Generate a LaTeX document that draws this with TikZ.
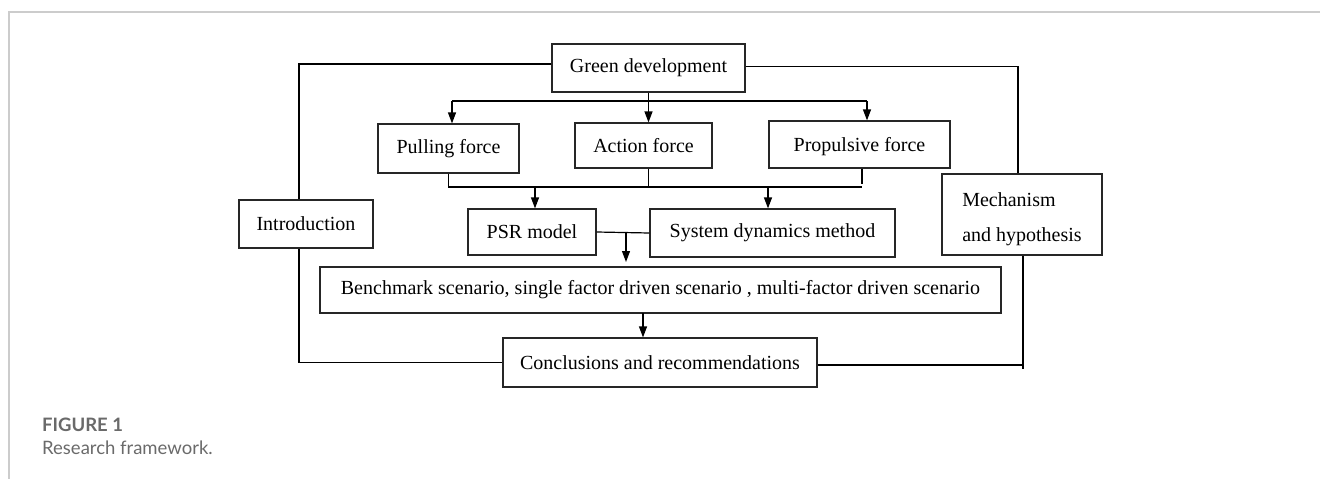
\documentclass[tikz,border=0pt]{standalone}
\usepackage{fontspec}
\setmainfont{Liberation Serif}
\newfontfamily\capfont{Lato}
\usetikzlibrary{arrows.meta,calc}
\definecolor{framegray}{HTML}{CCCCCC}
\definecolor{capgray}{HTML}{6A6A6A}
\tikzset{
  box/.style={draw=black!85, line width=1.2pt, inner sep=0pt, align=center,
    font=\fontsize{20}{24}\selectfont},
  link/.style={draw=black, line width=1.2pt},
  arr/.style={link, -{Triangle[length=11pt,width=8pt]}},
}
\begin{document}
\begin{tikzpicture}[x=1pt,y=-1pt]
\useasboundingbox (0,0) rectangle (1320,479);
% page frame
\draw[framegray, line width=1.6pt] (1320,12) -- (9,12) -- (9,479);

% boxes
\node[box, minimum width=193pt, minimum height=48pt] (green) at (648.5,68) {Green development};
\node[box, minimum width=134pt, minimum height=48pt] (intro) at (306,224) {Introduction};
\node[box, minimum width=141pt, minimum height=49pt] (pull) at (448.5,148.5) {Pulling force};
\node[box, minimum width=137pt, minimum height=45pt] (act) at (643.5,145.5) {Action force};
\node[box, minimum width=181pt, minimum height=47pt] (prop) at (859.5,144.5) {\rule{0pt}{18pt}Propulsive force};
\node[box, minimum width=160pt, minimum height=81pt, align=left,
      font=\fontsize{20}{35}\selectfont] (mech) at (1022,214.5)
      {\rule{0pt}{23pt}Mechanism\\and hypothesis};
\node[box, minimum width=128pt, minimum height=46pt] (psr) at (532,232) {PSR model};
\node[box, minimum width=245pt, minimum height=48pt] (sdm) at (772.5,233) {System dynamics method};
\node[box, minimum width=681pt, minimum height=46pt] (bench) at (660.5,290)
  {Benchmark scenario, single factor driven scenario , multi-factor driven scenario};
\node[box, minimum width=314pt, minimum height=49pt] (concl) at (660,362.5) {Conclusions and recommendations};

% branch points
\coordinate (bl) at (452,101);
\coordinate (br) at (867,101);
\coordinate (cl) at (448.5,187);
\coordinate (cr) at (862,187);
\coordinate (pTop) at (862,184);
\coordinate (aPsr) at (535,187);
\coordinate (aSdm) at (768,187);
\coordinate (mid) at (626,232);
\coordinate (midEnd) at (626,262);
\coordinate (bOut) at (643,313);
\coordinate (mEnd) at (1023,369);

% outer loop, left side
\draw[link] ([yshift=4pt]green.west) -| ([xshift=-7pt]intro.north);
\draw[link] ([xshift=-7pt]intro.south) |- (concl.west);
% outer loop, right side
\draw[link] ([yshift=1.5pt]green.east) -| ([xshift=-4pt]mech.north);
\draw[draw=black, line width=1.8pt] ([xshift=1pt]mech.south) -- (mEnd);
\draw[link] ([yshift=-2.5pt]concl.east) -- ([yshift=-2.5pt]concl.east -| mEnd);

% green development to the three forces
\draw[arr] (green.south) -- (green.south |- act.north);
\draw[link] (bl) -- (br);
\draw[arr] (bl) -- (bl |- pull.north);
\draw[arr] (br) -- (br |- prop.north);

% forces collected into the two methods
\draw[link] (pull.south) -- (cl) -- (cr);
\draw[draw=black, line width=1.8pt] (green.south |- act.south) -- (green.south |- cl);
\draw[link] (pTop |- prop.south) -- (pTop);
\draw[arr] (aPsr) -- (aPsr |- psr.north);
\draw[arr] (aSdm) -- (aSdm |- sdm.north);

% methods to scenarios to conclusions
\draw[link] (psr.east) -- (sdm.west);
\draw[arr] (mid) -- (midEnd);
\draw[arr] (bOut) -- (bOut |- concl.north);

% caption
\node[anchor=base west, inner sep=0pt, text=capgray, font=\capfont\bfseries\fontsize{18.5}{22}\selectfont]
  (figlabel) at (42,431) {FIGURE 1};
\node[anchor=base west, inner sep=0pt, text=capgray, font=\capfont\fontsize{18.5}{22}\selectfont]
  (figtitle) at (42,454) {Research framework.};
\end{tikzpicture}
\end{document}
